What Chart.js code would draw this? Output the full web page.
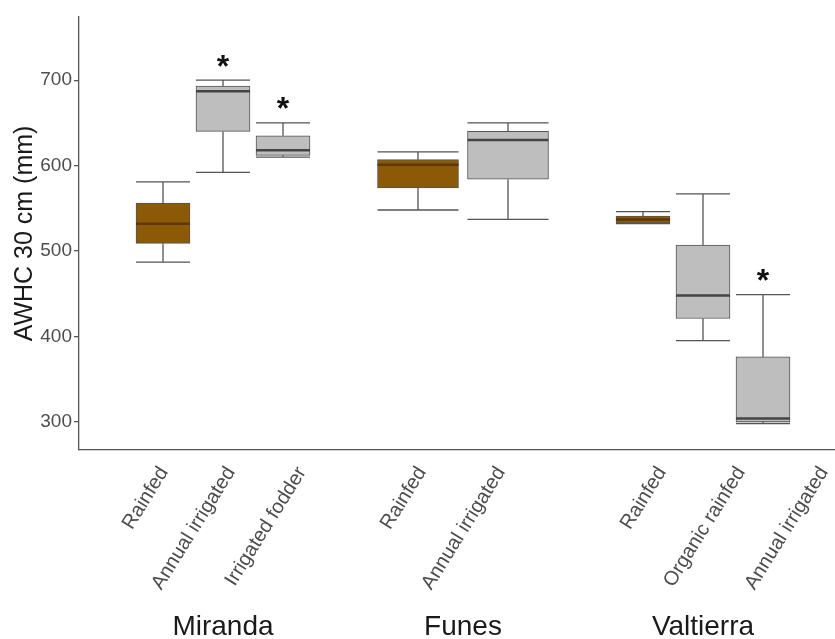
<!DOCTYPE html>
<html>
<head>
<meta charset="utf-8">
<script src="https://cdn.jsdelivr.net/npm/chart.js@4.4.1/dist/chart.umd.min.js"></script>
<style>
  html, body { margin: 0; padding: 0; background: #fff; }
  #wrap { width: 835px; height: 639px; position: relative; }
</style>
</head>
<body>
<div id="wrap"><canvas id="chart"></canvas></div>
<script>
// categories
const sites = ['Miranda', 'Funes', 'Valtierra'];
const managements = ['Rainfed', 'Annual irrigated', 'Irrigated fodder', 'Rainfed', 'Annual irrigated', 'Rainfed', 'Organic rainfed', 'Annual irrigated'];
const siteIndex = [0, 0, 0, 1, 1, 2, 2, 2];

// box plot stats, AWHC 30 cm (mm)
const whiskerLow  = [487, 592, 610, 548, 537, 532, 395, 298];
const q1          = [509, 640, 612, 574, 584, 533, 421, 300];
const median      = [532, 687, 618, 601, 630, 537, 448, 304];
const q3          = [556, 693, 635, 607, 640, 541, 507, 376];
const whiskerHigh = [581, 700, 650, 616, 650, 546, 567, 449];
const significant = [false, true, true, false, false, false, false, true];

const yTicks = [300, 400, 500, 600, 700];
// where each rotated label ends (x axis units)
const labelPos = [0.754, 1.033, 1.329, 1.829, 2.158, 2.829, 3.158, 3.504];

const font = '"Liberation Sans", Arial, sans-serif';
const brown = '#8c5a06';
const gray = '#bebebe';
const lineCol = '#555555';

// ggplot style dodge: boxes share 0.75 of a site slot
const dodge = 0.75;
const boxPos = [], boxWidth = [];
sites.forEach((s, si) => {
    const idx = siteIndex.map((v, i) => v === si ? i : -1).filter(i => i >= 0);
    idx.forEach((i, j) => {
        boxPos[i] = si + 1 + (j - (idx.length - 1) / 2) * dodge / idx.length;
        boxWidth[i] = 0.9 * dodge / idx.length;
    });
});

function isRainfed(i) { return managements[i] === 'Rainfed'; }

const datasets = sites.map((s, si) => {
    const idx = siteIndex.map((v, i) => v === si ? i : -1).filter(i => i >= 0);
    const w = boxWidth[idx[0]];
    return {
        label: s,
        data: idx.map(i => ({ x: boxPos[i], y: [q1[i], q3[i]] })),
        backgroundColor: idx.map(i => isRainfed(i) ? brown : gray),
        borderColor: lineCol,
        borderWidth: 1,
        borderSkipped: false,
        grouped: false,
        barThickness: (ctx) => {
            const xs = ctx.chart.scales.x;
            if (!xs) return 10;
            return Math.abs(xs.getPixelForValue(w) - xs.getPixelForValue(0));
        }
    };
});

// whiskers, medians, stars
const boxExtras = {
    id: 'boxExtras',
    afterDatasetsDraw(chart) {
        const ctx = chart.ctx;
        const xs = chart.scales.x, ys = chart.scales.y;
        ctx.save();
        for (let i = 0; i < managements.length; i++) {
            const cx = xs.getPixelForValue(boxPos[i]);
            const half = xs.getPixelForValue(boxPos[i] + boxWidth[i] / 2) - cx;
            const yHi = ys.getPixelForValue(whiskerHigh[i]);
            const yLo = ys.getPixelForValue(whiskerLow[i]);
            const yQ1 = ys.getPixelForValue(q1[i]);
            const yQ3 = ys.getPixelForValue(q3[i]);
            const yMed = ys.getPixelForValue(median[i]);

            ctx.strokeStyle = lineCol;
            ctx.lineWidth = 1.3;
            ctx.beginPath();
            ctx.moveTo(cx, yQ3); ctx.lineTo(cx, yHi);
            ctx.moveTo(cx, yQ1); ctx.lineTo(cx, yLo);
            ctx.moveTo(cx - half, yHi); ctx.lineTo(cx + half, yHi);
            ctx.moveTo(cx - half, yLo); ctx.lineTo(cx + half, yLo);
            ctx.stroke();

            ctx.strokeStyle = isRainfed(i) ? '#5a3a02' : '#444444';
            ctx.lineWidth = 2.5;
            ctx.beginPath();
            ctx.moveTo(cx - half, yMed); ctx.lineTo(cx + half, yMed);
            ctx.stroke();

            if (significant[i]) {
                ctx.fillStyle = '#111';
                ctx.font = 'bold 32px ' + font;
                ctx.textAlign = 'center';
                ctx.textBaseline = 'alphabetic';
                ctx.fillText('*', cx, yHi - 22 + 0.58 * 32);
            }
        }
        ctx.restore();
    },
    afterDraw(chart) {
        const ctx = chart.ctx;
        const xs = chart.scales.x;
        const bottom = chart.chartArea.bottom;
        ctx.save();
        // rotated management labels
        ctx.fillStyle = '#4d4d4d';
        ctx.font = '20px ' + font;
        ctx.textAlign = 'right';
        ctx.textBaseline = 'middle';
        managements.forEach((m, i) => {
            ctx.save();
            ctx.translate(xs.getPixelForValue(labelPos[i]), bottom + 19);
            ctx.rotate(-58 * Math.PI / 180);
            ctx.fillText(m, 0, 0);
            ctx.restore();
        });
        // site labels
        ctx.fillStyle = '#1a1a1a';
        ctx.font = '28px ' + font;
        ctx.textAlign = 'center';
        ctx.textBaseline = 'alphabetic';
        sites.forEach((s, si) => {
            ctx.fillText(s, xs.getPixelForValue(si + 1), bottom + 185);
        });
        ctx.restore();
    }
};

new Chart(document.getElementById('chart'), {
    type: 'bar',
    data: { datasets: datasets },
    options: {
        responsive: true,
        maintainAspectRatio: false,
        animation: false,
        layout: { padding: { top: 17, left: 0, right: 0, bottom: 0 } },
        plugins: { legend: { display: false }, tooltip: { enabled: false } },
        scales: {
            x: {
                type: 'linear',
                min: 0.4,
                max: 3.55,
                offset: false,
                ticks: { display: false },
                grid: { display: false },
                border: { display: true, color: lineCol, width: 1.3 },
                afterFit: (s) => { s.height = 189; }
            },
            y: {
                min: 267,
                max: 774,
                afterBuildTicks: (s) => { s.ticks = yTicks.map(v => ({ value: v })); },
                afterFit: (s) => { s.width = 79; },
                grid: { display: true, drawOnChartArea: false, drawTicks: true, tickLength: 5, color: lineCol, lineWidth: 1.3 },
                border: { display: true, color: lineCol, width: 1.3 },
                ticks: { color: '#4d4d4d', font: { family: font, size: 19 }, padding: 2 },
                title: {
                    display: true,
                    text: 'AWHC 30 cm (mm)',
                    color: '#1a1a1a',
                    font: { family: font, size: 25 },
                    padding: { top: 10, bottom: 0 }
                }
            }
        }
    },
    plugins: [boxExtras]
});
</script>
</body>
</html>
